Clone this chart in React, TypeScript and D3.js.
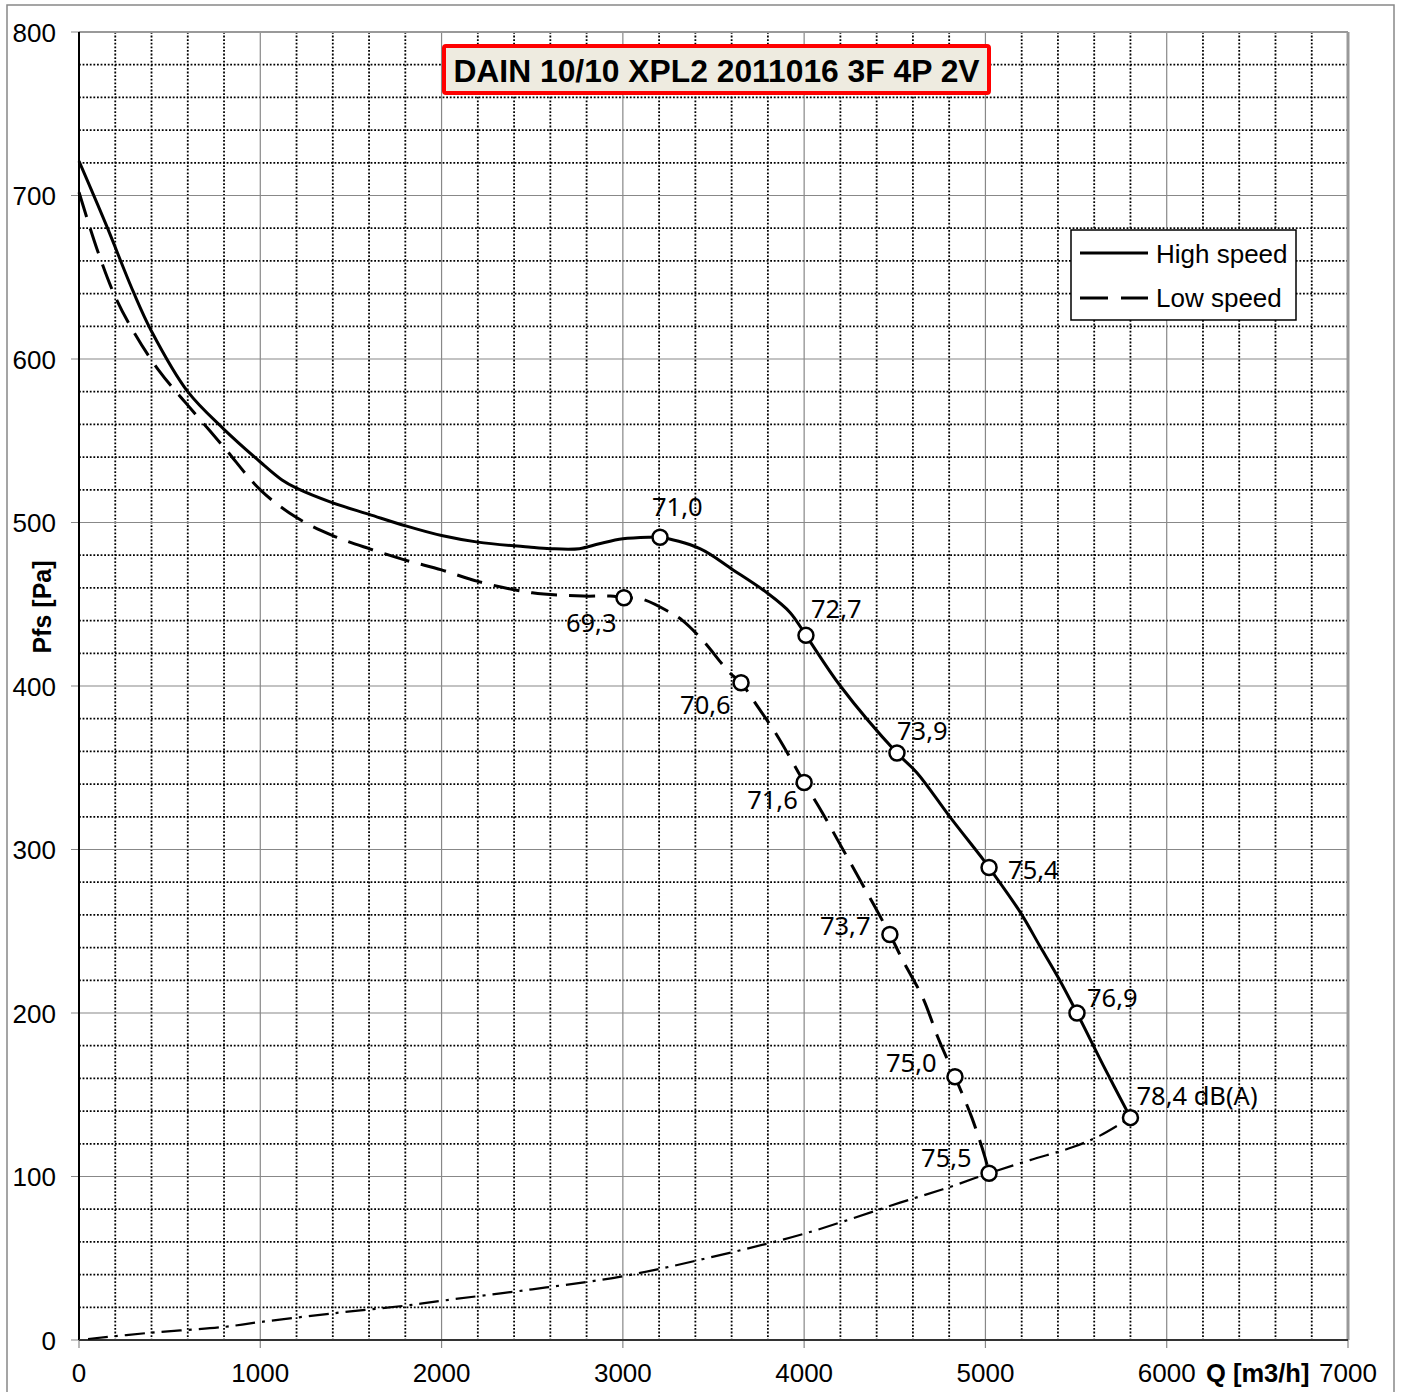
import * as d3 from "d3";

// fan curve, Q [m3/h] vs Pfs [Pa]
const highSpeed: [number, number][] = [
  [0, 721], [150, 682], [300, 641], [400, 617], [600, 580], [800, 557],
  [1000, 537], [1120, 526], [1200, 521], [1400, 512], [1600, 505],
  [1800, 498], [2000, 492], [2200, 488], [2480, 485], [2600, 484],
  [2760, 484], [2870, 487], [3000, 490], [3150, 491], [3205, 491],
  [3425, 484], [3608, 471], [3795, 457], [3922, 445], [4010, 431],
  [4200, 400], [4512, 359], [4622, 347], [4804, 320], [4987, 294],
  [5020, 289], [5190, 262], [5300, 241], [5400, 222], [5505, 200],
  [5650, 168], [5800, 136],
];

const lowSpeed: [number, number][] = [
  [0, 702], [100, 667], [200, 638], [300, 617], [440, 593], [590, 573],
  [800, 546], [1000, 520], [1200, 503], [1400, 492], [1600, 484],
  [1800, 477], [2000, 471], [2200, 464], [2500, 457], [2780, 455],
  [2930, 455], [3006, 454], [3110, 453], [3260, 445], [3330, 440],
  [3440, 428], [3590, 408], [3652, 402], [3740, 388], [3855, 369],
  [4000, 341], [4098, 323], [4209, 301], [4325, 278], [4473, 248],
  [4545, 232], [4656, 209], [4738, 185], [4832, 161], [4925, 136],
  [4997, 112], [5020, 102],
];

const systemCurve: [number, number][] = [
  [50, 0.6], [400, 4.5], [800, 8], [1000, 11], [1400, 16.3], [1800, 21],
  [2000, 24], [2500, 31], [3000, 39], [3500, 51], [4000, 65], [4529, 84],
  [4804, 93.6], [5020, 102], [5246, 110], [5483, 118], [5632, 125],
  [5800, 136],
];

const highMarkers: [number, number][] = [
  [3205, 491], [4010, 431], [4512, 359], [5020, 289], [5505, 200], [5800, 136],
];
const highLabels = ["71,0", "72,7", "73,9", "75,4", "76,9", "78,4 dB(A)"];

const lowMarkers: [number, number][] = [
  [3006, 454], [3652, 402], [4000, 341], [4473, 248], [4832, 161], [5020, 102],
];
const lowLabels = ["69,3", "70,6", "71,6", "73,7", "75,0", "75,5"];

// label offsets from the marker, px
const highOffsets = [[-8, -21], [5, -17], [0, -13], [19, 12], [10, -6], [6, -13]];
const lowOffsets = [[-58, 34], [-61, 31], [-57, 27], [-70, 0], [-69, -5], [-68, -6]];

const xTicks = [0, 1000, 2000, 3000, 4000, 5000, 6000, 7000];
const yTicks = [0, 100, 200, 300, 400, 500, 600, 700, 800];

const title = "DAIN 10/10 XPL2 2011016 3F 4P 2V";

const width = 1401;
const height = 1392;

export default function App() {
  const x = d3.scaleLinear().domain([0, 7000]).range([79, 1348]);
  const y = d3.scaleLinear().domain([0, 800]).range([1340, 32]);

  const minorX = d3.range(0, 7001, 200).filter((v) => v % 1000 !== 0);
  const minorY = d3.range(0, 801, 20).filter((v) => v % 100 !== 0);

  const line = d3
    .line<[number, number]>()
    .x((d) => x(d[0]))
    .y((d) => y(d[1]))
    .curve(d3.curveCatmullRom);

  const axisFont = "Liberation Sans, Arial, sans-serif";
  const labelFont = "Noto Sans, Open Sans, sans-serif";

  return (
    <svg
      width={width}
      height={height}
      style={{ position: "absolute", left: 0, top: 0, background: "#fff" }}
    >
      <rect x={7} y={5} width={1387} height={1395} fill="#fff" stroke="#888" strokeWidth={1.5} />

      {/* minor grid */}
      {minorX.map((v) => (
        <line key={"mx" + v} x1={x(v)} x2={x(v)} y1={y(800)} y2={y(0)}
          stroke="#000" strokeWidth={1.8} strokeDasharray="1.8,1.8" />
      ))}
      {minorY.map((v) => (
        <line key={"my" + v} x1={x(0)} x2={x(7000)} y1={y(v)} y2={y(v)}
          stroke="#000" strokeWidth={1.8} strokeDasharray="1.8,1.8" />
      ))}
      {/* major grid */}
      {xTicks.map((v) => (
        <line key={"gx" + v} x1={x(v)} x2={x(v)} y1={y(800)} y2={y(0) + 8}
          stroke="#888" strokeWidth={1.2} />
      ))}
      {yTicks.map((v) => (
        <line key={"gy" + v} x1={x(0) - 8} x2={x(7000)} y1={y(v)} y2={y(v)}
          stroke="#888" strokeWidth={1.2} />
      ))}

      {/* frame */}
      <line x1={x(0)} x2={x(7000)} y1={y(800)} y2={y(800)} stroke="#999" strokeWidth={2} />
      <line x1={x(7000)} x2={x(7000)} y1={y(800)} y2={y(0)} stroke="#999" strokeWidth={3} />
      <line x1={x(0)} x2={x(0)} y1={y(800)} y2={y(0)} stroke="#000" strokeWidth={2} />
      <line x1={x(0)} x2={x(7000)} y1={y(0)} y2={y(0)} stroke="#333" strokeWidth={2} />

      {/* ticks */}
      {yTicks.map((v) => (
        <text key={"ty" + v} x={56} y={y(v) + 9.5} textAnchor="end"
          fontFamily={axisFont} fontSize={26}>{v}</text>
      ))}
      {xTicks.map((v) => (
        <text key={"tx" + v} x={x(v)} y={1382} textAnchor="middle"
          fontFamily={axisFont} fontSize={26}>{v}</text>
      ))}
      <text x={1206} y={1382} fontFamily={axisFont} fontSize={25.5} fontWeight="bold">
        Q [m3/h]
      </text>
      <text transform="translate(51,607) rotate(-90)" textAnchor="middle"
        fontFamily={axisFont} fontSize={25} fontWeight="bold">
        Pfs [Pa]
      </text>

      {/* curves */}
      <path d={line(systemCurve) ?? ""} fill="none" stroke="#000" strokeWidth={2.2}
        strokeDasharray="20,7,3,7" />
      <path d={line(lowSpeed) ?? ""} fill="none" stroke="#000" strokeWidth={3}
        strokeDasharray="26,12" />
      <path d={line(highSpeed) ?? ""} fill="none" stroke="#000" strokeWidth={3} />

      {highMarkers.map((d, i) => (
        <g key={"hm" + i}>
          <circle cx={x(d[0])} cy={y(d[1])} r={7.5} fill="#fff" stroke="#000" strokeWidth={2.5} />
          <text x={x(d[0]) + highOffsets[i][0]} y={y(d[1]) + highOffsets[i][1]}
            fontFamily={labelFont} fontSize={25.5}>{highLabels[i]}</text>
        </g>
      ))}
      {lowMarkers.map((d, i) => (
        <g key={"lm" + i}>
          <circle cx={x(d[0])} cy={y(d[1])} r={7.5} fill="#fff" stroke="#000" strokeWidth={2.5} />
          <text x={x(d[0]) + lowOffsets[i][0]} y={y(d[1]) + lowOffsets[i][1]}
            fontFamily={labelFont} fontSize={25.5}>{lowLabels[i]}</text>
        </g>
      ))}

      {/* title */}
      <rect x={444} y={46} width={545} height={47} rx={2} fill="#EEEBE0" stroke="#f00" strokeWidth={4} />
      <text x={716.5} y={82} textAnchor="middle" fontFamily={axisFont} fontSize={31.8}
        fontWeight="bold">{title}</text>

      {/* legend */}
      <rect x={1071} y={230} width={225} height={90} fill="#fff" stroke="#000" strokeWidth={1.5} />
      <line x1={1080} x2={1148} y1={253} y2={253} stroke="#000" strokeWidth={3} />
      <line x1={1080} x2={1148} y1={298} y2={298} stroke="#000" strokeWidth={3}
        strokeDasharray="28,13" />
      <text x={1156} y={263} fontFamily={axisFont} fontSize={26}>High speed</text>
      <text x={1156} y={307} fontFamily={axisFont} fontSize={26}>Low speed</text>
    </svg>
  );
}
